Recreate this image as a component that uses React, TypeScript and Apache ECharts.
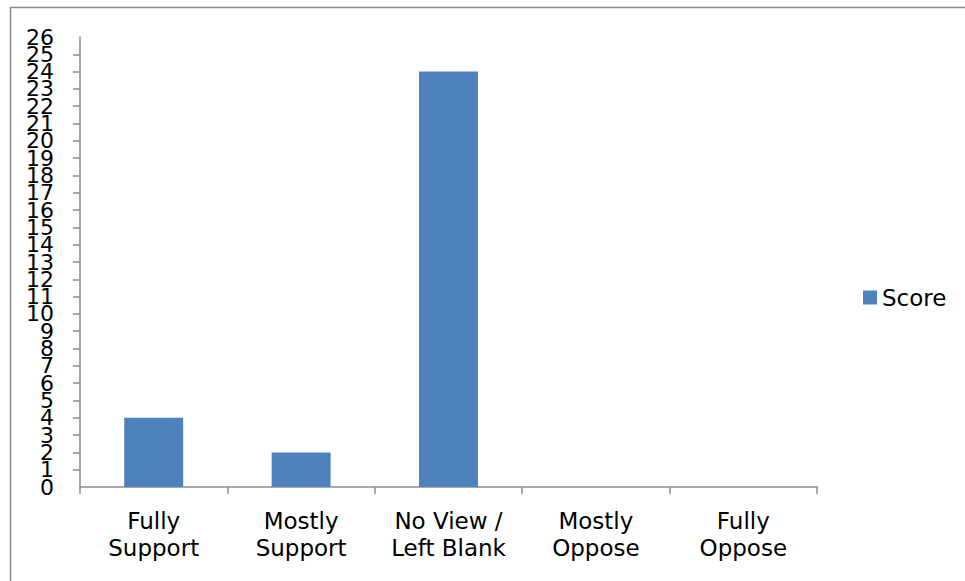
import React, { useEffect, useRef } from "react";
import * as echarts from "echarts";

// Responses per position
const categories = [
  "Fully\nSupport",
  "Mostly\nSupport",
  "No View /\nLeft Blank",
  "Mostly\nOppose",
  "Fully\nOppose",
];
const scores = [4, 2, 24, 0, 0];
const seriesName = "Score";
const yMin = 0;
const yMax = 26;

const FONT = "'DejaVu Sans', Verdana, sans-serif";
const AXIS_GRAY = "#8c8c8c";

const yLabelStyle = {
  color: "#000",
  fontFamily: FONT,
  fontSize: 22,
  margin: 26,
  hideOverlap: false,
};

export default function App() {
  const ref = useRef<HTMLDivElement>(null);

  useEffect(() => {
    if (!ref.current) return;
    const chart = echarts.init(ref.current, null, { renderer: "svg" });
    chart.setOption({
      animation: false,
      backgroundColor: "#ffffff",
      textStyle: { fontFamily: FONT },
      grid: { left: 80, right: 148, top: 37, bottom: 94, containLabel: false },
      legend: {
        data: [seriesName],
        left: 858,
        top: 281,
        orient: "vertical",
        itemWidth: 14,
        itemHeight: 14,
        itemGap: 5,
        icon: "rect",
        textStyle: { fontFamily: FONT, fontSize: 23, color: "#000" },
      },
      xAxis: {
        type: "category",
        data: categories,
        axisLine: { lineStyle: { color: AXIS_GRAY, width: 1.5 } },
        axisTick: { show: true, length: 7, alignWithLabel: false, lineStyle: { color: AXIS_GRAY, width: 1.5 } },
        axisLabel: {
          color: "#000",
          fontFamily: FONT,
          fontSize: 23,
          lineHeight: 27,
          margin: 20,
          interval: 0,
        },
        splitLine: { show: false },
      },
      yAxis: [
        {
          // main axis: line, every tick, labels 1..25
          type: "value",
          min: yMin,
          max: yMax,
          interval: 1,
          axisLine: { show: true, lineStyle: { color: AXIS_GRAY, width: 1.5 } },
          axisTick: { show: true, length: 7, lineStyle: { color: AXIS_GRAY, width: 1.5 } },
          axisLabel: { ...yLabelStyle, showMinLabel: false, showMaxLabel: false },
          splitLine: { show: false },
        },
        {
          // end labels (0 and 26) on the same scale, so they are never dropped
          type: "value",
          position: "left",
          min: yMin,
          max: yMax,
          interval: yMax - yMin,
          axisLine: { show: false },
          axisTick: { show: false },
          axisLabel: { ...yLabelStyle, showMinLabel: true, showMaxLabel: true },
          splitLine: { show: false },
        },
      ],
      series: [
        {
          name: seriesName,
          type: "bar",
          yAxisIndex: 0,
          data: scores,
          barWidth: "40%",
          itemStyle: { color: "#4f81bd" },
        },
      ],
      graphic: [
        {
          type: "line",
          shape: { x1: 10, y1: 7.5, x2: 965, y2: 7.5 },
          style: { stroke: "#8a8a8a", lineWidth: 1.5 },
        },
        {
          type: "line",
          shape: { x1: 10.5, y1: 7, x2: 10.5, y2: 581 },
          style: { stroke: "#8a8a8a", lineWidth: 1.5 },
        },
      ],
    });
    return () => chart.dispose();
  }, []);

  return (
    <div
      ref={ref}
      style={{ position: "fixed", left: 0, top: 0, width: 965, height: 581, background: "#fff" }}
    />
  );
}
